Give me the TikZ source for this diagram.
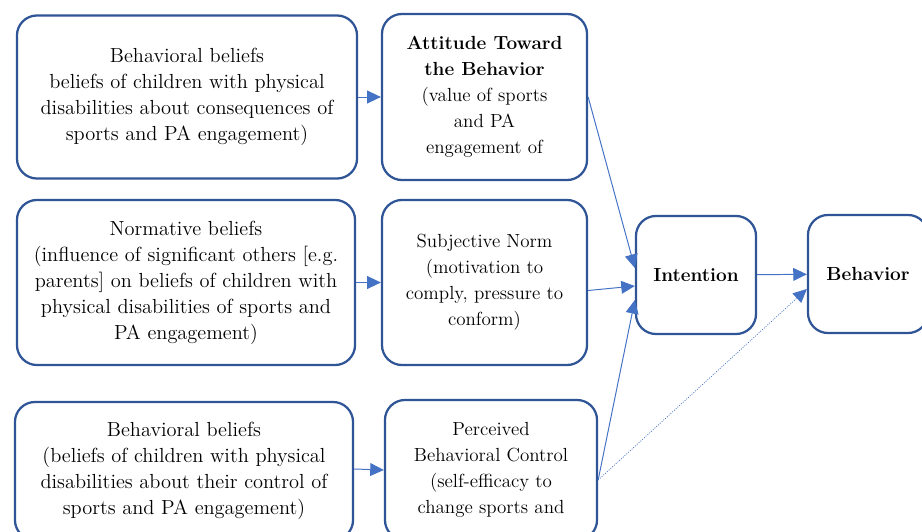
\documentclass[tikz,border=0pt]{standalone}
\usetikzlibrary{arrows.meta}
\definecolor{boxblue}{RGB}{47,85,151}
\definecolor{arrowblue}{RGB}{68,114,196}
\tikzset{
box/.style={ % Rounded boxes of the model
draw=boxblue,
line width=1.6pt,
rounded corners=0.5cm,
align=center,
inner sep=2pt,
font=\fontsize{13.5}{18.5}\selectfont},
belief/.style={ % Boxes on the left, a bit wider text
box,
font=\fontsize{14.5}{18.5}\selectfont},
link/.style={ % Arrows between the boxes
draw=arrowblue,
line width=0.7pt,
-{Triangle[length=0.34cm,width=0.32cm]}}}

\begin{document}
\begin{tikzpicture}[x=0.025cm, y=-0.025cm]
\useasboundingbox (0,0) rectangle (922,532);
% beliefs
\node[belief, minimum width=8.5cm, minimum height=4.075cm] (bb1) at (187,97) {Behavioral beliefs\\ beliefs of children with physical\\disabilities about consequences of\\sports and PA engagement)};
\node[belief, minimum width=8.45cm, minimum height=4.125cm] (nb) at (186,282.5) {Normative beliefs\\(influence of significant others [e.g.\\parents] on beliefs of children with\\physical disabilities of sports and\\PA engagement)};
\node[belief, minimum width=8.45cm, minimum height=3.45cm] (bb2) at (184,471) {Behavioral beliefs\\(beliefs of children with physical\\disabilities about their control of\\sports and PA engagement)};
% constructs
\node[box, minimum width=5.125cm, minimum height=4.15cm] (att) at (484.5,97) {\textbf{Attitude Toward}\\\textbf{the Behavior}\\(value of sports\\and PA\\engagement of};
\node[box, minimum width=5.125cm, minimum height=4.125cm] (sn) at (484.5,282.5) {Subjective Norm\\(motivation to\\comply, pressure to\\conform)};
\node[box, minimum width=5.3cm, minimum height=3.5cm] (pbc) at (491,470) {Perceived\\Behavioral Control\\(self-efficacy to\\change sports and};
\node[box, minimum width=3cm, minimum height=2.95cm] (int) at (696,275) {\textbf{Intention}};
\node[box, minimum width=3cm, minimum height=2.95cm] (beh) at (868,274) {\textbf{Behavior}};
\draw[link] (bb1) -- (att);
\draw[link] (nb) -- (sn);
\draw[link] ([yshift=0.05cm]bb2.east) -- (pbc.west);
\draw[link] (att.east) -- ([yshift=0.175cm]int.west);
\draw[link] ([yshift=-0.2cm]sn.east) -- ([yshift=-0.275cm]int.west);
\draw[link] ([yshift=-0.25cm]pbc.east) -- ([yshift=-0.625cm]int.west);
\draw[link, densely dotted, line width=0.5pt] ([yshift=-0.25cm]pbc.east) -- ([yshift=-0.375cm]beh.west);
\draw[link] (int) -- (beh);
\end{tikzpicture}
\end{document}
